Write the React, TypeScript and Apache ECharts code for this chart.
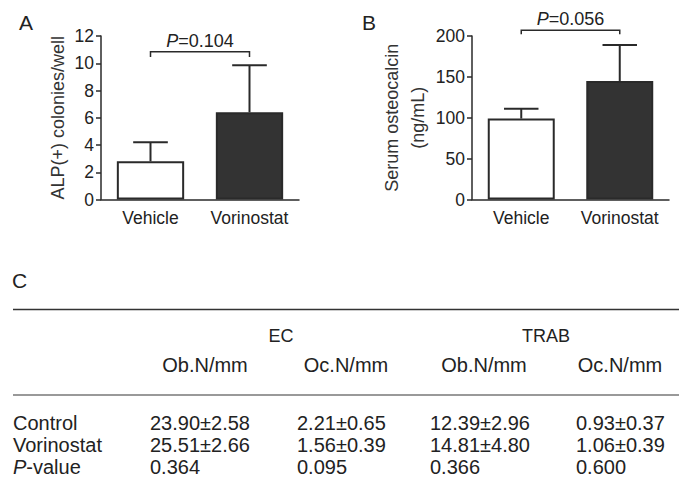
import React, { useEffect, useRef } from "react";
import * as echarts from "echarts";

// ---- Data ----
const categories = ["Vehicle", "Vorinostat"];
const alpMeans = [2.8, 6.4];
const alpUpper = [4.2, 9.85];
const alpBracket = [10.85, 10.45]; // bracket top, bracket ends
const alpP = "0.104";

const ocnMeans = [99, 145];
const ocnUpper = [111, 189];
const ocnBracket = [207, 202];
const ocnP = "0.056";

const tableGroups = ["EC", "TRAB"];
const tableMetrics = ["Ob.N/mm", "Oc.N/mm", "Ob.N/mm", "Oc.N/mm"];
const rowLabels = ["Control", "Vorinostat", "P-value"];
const controlRow = ["23.90±2.58", "2.21±0.65", "12.39±2.96", "0.93±0.37"];
const vorinostatRow = ["25.51±2.66", "1.56±0.39", "14.81±4.80", "1.06±0.39"];
const pValueRow = ["0.364", "0.095", "0.366", "0.600"];

const FONT = "'Liberation Sans', Arial, sans-serif";
const INK = "#222";
const LINE = "#2a2a2a";

function barSeries(idx: number, means: number[]) {
  return {
    type: "bar",
    xAxisIndex: idx,
    yAxisIndex: idx,
    barWidth: "68%",
    data: means.map((v, i) => ({
      value: v,
      itemStyle: { color: i === 0 ? "#ffffff" : "#333333" },
    })),
    itemStyle: { borderColor: LINE, borderWidth: 2 },
    z: 2,
  };
}

function errorSeries(idx: number, means: number[], upper: number[]) {
  return {
    type: "custom",
    xAxisIndex: idx,
    yAxisIndex: idx,
    z: 3,
    data: means.map((m, i) => [i, m, upper[i]]),
    renderItem: (params: any, api: any) => {
      const i = api.value(0);
      const p0 = api.coord([i, api.value(1)]);
      const p1 = api.coord([i, api.value(2)]);
      const half = api.size([1, 0])[0] * 0.175;
      const style = { stroke: LINE, lineWidth: 2 };
      return {
        type: "group",
        children: [
          { type: "line", shape: { x1: p0[0], y1: p0[1], x2: p1[0], y2: p1[1] }, style },
          { type: "line", shape: { x1: p1[0] - half, y1: p1[1], x2: p1[0] + half, y2: p1[1] }, style },
        ],
      };
    },
  };
}

function bracketSeries(idx: number, bracket: number[], p: string) {
  return {
    type: "custom",
    xAxisIndex: idx,
    yAxisIndex: idx,
    z: 3,
    clip: false,
    data: [[0, 1, bracket[0], bracket[1]]],
    renderItem: (params: any, api: any) => {
      const a = api.coord([api.value(0), api.value(2)]);
      const b = api.coord([api.value(1), api.value(2)]);
      const e = api.coord([api.value(0), api.value(3)]);
      return {
        type: "group",
        children: [
          {
            type: "polyline",
            shape: { points: [[a[0], e[1]], a, b, [b[0], e[1]]] },
            style: { stroke: LINE, lineWidth: 1.5, fill: "none" },
          },
          {
            type: "text",
            x: (a[0] + b[0]) / 2,
            y: a[1] - 2,
            style: {
              text: "{i|P}=" + p,
              align: "center",
              verticalAlign: "bottom",
              fontSize: 18,
              fontFamily: FONT,
              fill: INK,
              rich: { i: { fontStyle: "italic", fontSize: 18, fontFamily: FONT, fill: INK } },
            },
          },
        ],
      };
    },
  };
}

function yAxis(idx: number, max: number, interval: number, name: string, nameGap: number, lineHeight: number) {
  return {
    type: "value",
    gridIndex: idx,
    min: 0,
    max,
    interval,
    name,
    nameLocation: "middle",
    nameRotate: 90,
    nameGap,
    nameTextStyle: { fontSize: 18, fontFamily: FONT, color: "#333", lineHeight },
    splitLine: { show: false },
    axisLine: { show: true, lineStyle: { color: LINE, width: 1.5 } },
    axisTick: { show: true, length: 5, lineStyle: { color: LINE, width: 1.5 } },
    axisLabel: { fontSize: 17.5, fontFamily: FONT, color: INK, margin: 7 },
  };
}

function xAxis(idx: number) {
  return {
    type: "category",
    gridIndex: idx,
    data: categories,
    axisLine: { show: true, lineStyle: { color: LINE, width: 1.5 } },
    axisTick: { show: false },
    axisLabel: { fontSize: 17.5, fontFamily: FONT, color: INK, margin: 9, interval: 0 },
  };
}

function tableGraphics() {
  const els: any[] = [];
  const txt = (x: number, y: number, text: string, align: string, size = 20, rich?: any) => ({
    type: "text",
    x,
    y,
    style: {
      text,
      align,
      verticalAlign: "middle",
      fontSize: size,
      fontFamily: FONT,
      fill: INK,
      rich,
    },
  });
  // panel letters
  els.push(txt(19, 22, "A", "left", 21));
  els.push(txt(362, 22, "B", "left", 21));
  els.push(txt(12, 280, "C", "left", 21));
  // rules
  els.push({ type: "line", shape: { x1: 13, y1: 309.5, x2: 679, y2: 309.5 }, style: { stroke: "#333", lineWidth: 1.5 } });
  els.push({ type: "line", shape: { x1: 13, y1: 395, x2: 679, y2: 395 }, style: { stroke: "#999", lineWidth: 2 } });
  const colCenters = [205, 346, 484, 620];
  const colLefts = [150, 297, 430, 576];
  const groupCenters = [281, 546];
  tableGroups.forEach((g, i) => els.push(txt(groupCenters[i], 336, g, "center", 18)));
  tableMetrics.forEach((m, i) => els.push(txt(colCenters[i], 365, m, "center", 20)));
  const rows = [controlRow, vorinostatRow, pValueRow];
  const rowY = [423, 445, 467];
  rowLabels.forEach((r, ri) => {
    if (r === "P-value") {
      els.push(txt(13, rowY[ri], "{i|P}-value", "left", 20, { i: { fontStyle: "italic", fontSize: 20, fontFamily: FONT, fill: INK } }));
    } else {
      els.push(txt(13, rowY[ri], r, "left", 20));
    }
    rows[ri].forEach((v, ci) => els.push(txt(colLefts[ci], rowY[ri], v, "left", 20)));
  });
  return els;
}

export default function App() {
  const ref = useRef<HTMLDivElement>(null);
  useEffect(() => {
    if (!ref.current) return;
    const chart = echarts.init(ref.current, null, { renderer: "svg" });
    chart.setOption({
      animation: false,
      backgroundColor: "#ffffff",
      grid: [
        { left: 101, top: 36, width: 198, height: 163.5 },
        { left: 472, top: 36, width: 197, height: 163.5 },
      ],
      xAxis: [xAxis(0), xAxis(1)],
      yAxis: [
        yAxis(0, 12, 2, "ALP(+) colonies/well", 32, 22),
        yAxis(1, 200, 50, "Serum osteocalcin\n(ng/mL)", 41, 26),
      ],
      series: [
        barSeries(0, alpMeans),
        errorSeries(0, alpMeans, alpUpper),
        bracketSeries(0, alpBracket, alpP),
        barSeries(1, ocnMeans),
        errorSeries(1, ocnMeans, ocnUpper),
        bracketSeries(1, ocnBracket, ocnP),
      ],
      graphic: tableGraphics(),
    });
    return () => chart.dispose();
  }, []);
  return (
    <div
      ref={ref}
      style={{ position: "fixed", left: 0, top: 0, width: 679, height: 502, background: "#fff" }}
    />
  );
}
